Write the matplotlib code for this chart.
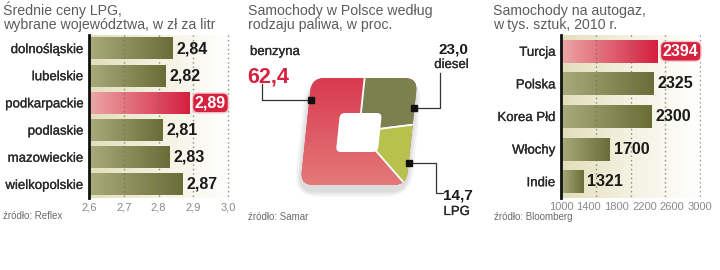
import numpy as np
import matplotlib
matplotlib.use('Agg')
import matplotlib.pyplot as plt
import matplotlib.patheffects as pe
from matplotlib.colors import LinearSegmentedColormap
from matplotlib.patches import FancyBboxPatch
from matplotlib.transforms import Affine2D

# panel 1: average LPG prices, zl per litre
regions = ['dolnośląskie', 'lubelskie', 'podkarpackie', 'podlaskie', 'mazowieckie', 'wielkopolskie']
prices = [2.84, 2.82, 2.89, 2.81, 2.83, 2.87]
price_ticks = [2.6, 2.7, 2.8, 2.9, 3.0]
price_grid = [2.7, 2.8, 2.9, 3.0]
price_highlight = 'podkarpackie'

# panel 2: cars in Poland by fuel, percent (clockwise from the top)
fuel_types = ['diesel', 'LPG', 'benzyna']
fuel_shares = [23.0, 14.7, 62.4]

# panel 3: LPG cars, thousands, 2010
countries = ['Turcja', 'Polska', 'Korea Płd', 'Włochy', 'Indie']
lpg_cars = [2394, 2325, 2300, 1700, 1321]
car_ticks = [1000, 1400, 1800, 2200, 2600, 3000]
car_grid = [1500, 2000, 2500, 3000]
car_highlight = 'Turcja'

W, H = 720, 270
SANS = ['Liberation Sans', 'DejaVu Sans']
RED = '#d5223f'
LABEL_FX = [pe.withStroke(linewidth=0.2, foreground='#2a2a2a')]

bg_cmap = LinearSegmentedColormap.from_list('bg', ['#e2debb', '#f4f2e2', '#ffffff'])
olive_cmap = LinearSegmentedColormap.from_list('olive', ['#a9ab7c', '#6a6d36'])
red_cmap = LinearSegmentedColormap.from_list('red', ['#eca7a6', '#d41f3f'])
pie_red_cmap = LinearSegmentedColormap.from_list('pie_red', ['#d8364d', '#e47d7b'])


def fig_rect(x0, y0, x1, y1):
    # pixel box (y down) -> figure fraction rect
    return [x0 / W, 1 - y1 / H, (x1 - x0) / W, (y1 - y0) / H]


def fmt_pl(v, nd):
    return f'{v:.{nd}f}'.replace('.', ',')


def bar_panel(fig, rect, cats, vals, highlight, xlim, ticks, grid, nd, bar_h):
    ax = fig.add_axes(rect)
    n = len(cats)
    ys = np.arange(n)
    grad = np.linspace(0, 1, 256)[None, :]

    ax.imshow(grad, cmap=bg_cmap, extent=(xlim[0], xlim[1], n - 0.5, -0.5),
              aspect='auto', zorder=0)

    colors = [RED if c == highlight else '#6a6d36' for c in cats]
    bars = ax.barh(ys, vals, height=bar_h, color=colors, zorder=1)
    for bar, c in zip(bars, cats):
        y0 = bar.get_y()
        cmap = red_cmap if c == highlight else olive_cmap
        ax.imshow(grad, cmap=cmap, extent=(xlim[0], bar.get_width(), y0 + bar_h, y0),
                  aspect='auto', zorder=2)

    ax.vlines(grid, -0.5, n - 0.5, colors='#6f6f62', linestyles=(0, (1, 2.2)),
              lw=1, alpha=0.8, zorder=3)

    for y, v, c in zip(ys, vals, cats):
        if c == highlight:
            ax.annotate(fmt_pl(v, nd), (v, y), xytext=(5, 0), textcoords='offset pixels',
                        ha='left', va='center', fontsize=11.5, fontweight='bold',
                        family=SANS, color='white', zorder=5,
                        bbox=dict(boxstyle='round,pad=0.15,rounding_size=0.35',
                                  fc=RED, ec='#f3c9cf', lw=1))
        else:
            ax.annotate(fmt_pl(v, nd), (v, y), xytext=(4, 0), textcoords='offset pixels',
                        ha='left', va='center', fontsize=11.5, fontweight='bold',
                        family=SANS, color='#1a1a1a', zorder=5)

    ax.set_xlim(xlim)
    ax.set_ylim(n - 0.5, -0.5)
    ax.set_xticks(ticks)
    ax.set_xticklabels([fmt_pl(t, 1 if nd else 0) for t in ticks], family=SANS,
                       fontsize=8, color='#8a8a8a')
    ax.set_yticks(ys)
    ax.set_yticklabels(cats, family=SANS, fontsize=9.5, color='#2a2a2a')
    for lab in ax.get_yticklabels():
        lab.set_path_effects(LABEL_FX)
    ax.tick_params(length=0, pad=3)
    ax.tick_params(axis='y', pad=4)
    for s in ['top', 'right', 'bottom']:
        ax.spines[s].set_visible(False)
    ax.spines['left'].set_linewidth(2)
    ax.spines['left'].set_color('#111111')
    ax.spines['left'].set_zorder(6)
    return ax


fig = plt.figure(figsize=(W / 100, H / 100), dpi=100)
fig.patch.set_facecolor('white')

# --- panel 1
bar_panel(fig, fig_rect(89, 35, 89 + 0.41 * 348, 198), regions, prices, price_highlight,
          (2.6, 3.01), price_ticks, price_grid, 2, 0.8)

# --- panel 3
bar_panel(fig, fig_rect(561, 35, 561 + 2020 * 0.0695, 198), countries, lpg_cars, car_highlight,
          (1000, 3020), car_ticks, car_grid, 0, 0.7)

# --- panel 2: rounded, slightly sheared "pie"
pax = fig.add_axes([0, 0, 1, 1])
pax.set_axis_off()
cx, cy = 359, H - 131.5
shear = Affine2D().skew_deg(6, 0).translate(cx, cy) + pax.transData

for i, a in enumerate([0.04, 0.05, 0.06, 0.07]):
    grow = 3 * (4 - i)
    sh = FancyBboxPatch((-53 - grow / 2, -53.5 - 6 - grow / 2), 106 + grow, 107 + grow,
                        boxstyle='round,pad=0,rounding_size=%d' % (14 + grow),
                        fc='#606060', ec='none', alpha=a, transform=shear, zorder=0.5)
    pax.add_patch(sh)

fuel_colors = ['#7c7f4e', '#b7c24c', '#d9455a']
wedges, _ = pax.pie(fuel_shares, startangle=90, counterclock=False, radius=150,
                    colors=fuel_colors, wedgeprops=dict(edgecolor='white', linewidth=1.3))
outer = FancyBboxPatch((-53, -53.5), 106, 107, boxstyle='round,pad=0,rounding_size=13',
                       transform=shear)
for w, name in zip(wedges, fuel_types):
    w.set_transform(shear)
    w.set_clip_on(True)
    w.set_clip_path(outer)
    w.set_zorder(1 if name == 'benzyna' else 2)

img = pax.imshow(np.linspace(0, 1, 256)[:, None], cmap=pie_red_cmap,
                 extent=(cx - 75, cx + 75, cy - 60, cy + 60), aspect='auto', zorder=1.5)
img.set_clip_path(outer)

hole = FancyBboxPatch((-21, -20.5), 42, 39, boxstyle='round,pad=0,rounding_size=5',
                      fc='white', ec='none', transform=shear, zorder=3)
pax.add_patch(hole)
pax.set_aspect('auto')
pax.set_xlim(0, W)
pax.set_ylim(0, H)

# --- annotation layer in pixel coords (y down)
tax = fig.add_axes([0, 0, 1, 1], zorder=10)
tax.set_axis_off()
tax.set_xlim(0, W)
tax.set_ylim(H, 0)

share = dict(zip(fuel_types, fuel_shares))
lc = '#333333'
tax.plot([262, 262, 311], [84, 100, 100], color=lc, lw=0.9)
tax.plot([440, 440, 414], [73, 108, 108], color=lc, lw=0.9)
tax.plot([409, 436, 436, 443], [163, 163, 193, 193], color=lc, lw=0.9)
tax.plot([311, 414, 409], [100, 108, 163], 's', ms=4, color='#111111')

tax.text(250, 52, 'benzyna', family=SANS, fontsize=9.5, color='#2a2a2a',
         va='center', path_effects=LABEL_FX)
tax.text(247, 77, fmt_pl(share['benzyna'], 1), family=SANS, fontsize=15.5,
         fontweight='bold', color=RED, va='center')
tax.text(468, 50, fmt_pl(share['diesel'], 1), family=SANS, fontsize=11,
         fontweight='bold', color='#1a1a1a', va='center', ha='right')
tax.text(469, 65, 'diesel', family=SANS, fontsize=9.5, color='#2a2a2a',
         va='center', ha='right', path_effects=LABEL_FX)
tax.text(443, 195, fmt_pl(share['LPG'], 1), family=SANS, fontsize=11,
         fontweight='bold', color='#1a1a1a', va='center', ha='left')
tax.text(470, 212, 'LPG', family=SANS, fontsize=9.5, color='#2a2a2a',
         va='center', ha='right', path_effects=LABEL_FX)

# titles
title_kw = dict(family=SANS, fontsize=10.2, color='#5c5c5c', va='baseline')
tax.text(3, 15, 'Średnie ceny LPG,', **title_kw)
tax.text(3, 29, 'wybrane województwa, w zł za litr', **title_kw)
tax.text(248, 15, 'Samochody w Polsce według', **title_kw)
tax.text(248, 29, 'rodzaju paliwa, w proc.', **title_kw)
tax.text(493, 15, 'Samochody na autogaz,', **title_kw)
tax.text(493, 29, 'w tys. sztuk, 2010 r.', **title_kw)

# sources
src_kw = dict(family=SANS, fontsize=7, color='#6a6a6a', va='center')
tax.text(3, 216, 'źródło: Reflex', **src_kw)
tax.text(248, 216.5, 'źródło: Samar', **src_kw)
tax.text(494, 217, 'źródło: Bloomberg', **src_kw)

fig.savefig('out.png', dpi=100)
